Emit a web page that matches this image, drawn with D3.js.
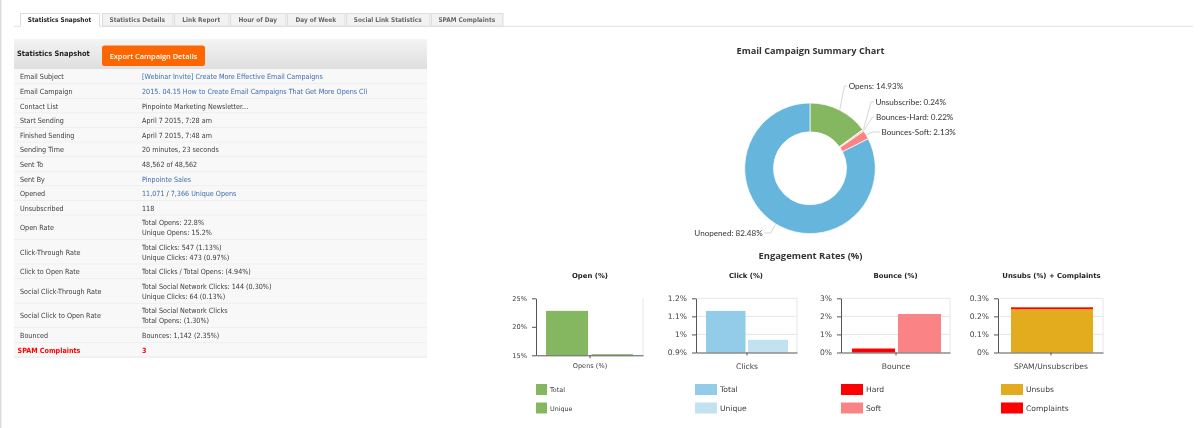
<!DOCTYPE html>
<html><head><meta charset="utf-8">
<script src="https://cdn.jsdelivr.net/npm/d3@7/dist/d3.min.js"></script>
<style>
html,body{margin:0;padding:0;background:#fff;overflow:hidden}
svg{display:block;filter:blur(.35px)}
text{font-family:"DejaVu Sans",sans-serif;font-size:7.6px;fill:#3c3c3c}
.r{font-family:"DejaVu Sans Condensed","DejaVu Sans",sans-serif;font-size:7.15px}
.b{font-weight:bold}
.lnk{fill:#3b6db0}
.t{font-family:"Open Sans",sans-serif;font-weight:700;fill:#333}
</style></head><body>
<svg id="c" width="1200" height="428"></svg>
<script>
const tabs = ["Statistics Snapshot","Statistics Details","Link Report","Hour of Day","Day of Week","Social Link Statistics","SPAM Complaints"];
const rowLabels = ["Email Subject","Email Campaign","Contact List","Start Sending","Finished Sending","Sending Time","Sent To","Sent By","Opened","Unsubscribed","Open Rate","Click-Through Rate","Click to Open Rate","Social Click-Through Rate","Social Click to Open Rate","Bounced","SPAM Complaints"];
const rowValues = [["[Webinar Invite] Create More Effective Email Campaigns"],["2015. 04.15 How to Create Email Campaigns That Get More Opens Cli"],["Pinpointe Marketing Newsletter..."],["April 7 2015, 7:28 am"],["April 7 2015, 7:48 am"],["20 minutes, 23 seconds"],["48,562 of 48,562"],["Pinpointe Sales"],["11,071 / 7,366 Unique Opens"],["118"],["Total Opens: 22.8%","Unique Opens: 15.2%"],["Total Clicks: 547 (1.13%)","Unique Clicks: 473 (0.97%)"],["Total Clicks / Total Opens: (4.94%)"],["Total Social Network Clicks: 144 (0.30%)","Unique Clicks: 64 (0.13%)"],["Total Social Network Clicks","Total Opens: (1.30%)"],["Bounces: 1,142 (2.35%)"],["3"]];
const linkRows = ["Email Subject","Email Campaign","Sent By","Opened"];
const pieNames = ["Opens","Unsubscribe","Bounces-Hard","Bounces-Soft","Unopened"];
const pieValues = [14.93,0.24,0.22,2.13,82.48];
const pieColors = ["#85b761","#f6b26b","#f5554f","#f98385","#66b5dc"];

const svg = d3.select("#c");
svg.append("rect").attr("x",0).attr("y",0).attr("width",1.5).attr("height",428).attr("fill","#dcdcdc");

// tabs
const tabEdges = [20,102,174,230,287,346,431,504];
svg.append("rect").attr("x",14).attr("y",25.8).attr("width",1179).attr("height",1.3).attr("fill","#e6e6e6");
tabs.forEach((t,i)=>{
  const x0=tabEdges[i], x1=tabEdges[i+1]-(i==0?3:1.5);
  svg.append("rect").attr("x",x0+.5).attr("y",13.5).attr("width",x1-x0).attr("height",i==0?14:12.5)
    .attr("fill",i==0?"#fff":"#f2f2f2").attr("stroke",i==0?"#fff":"#ddd");
  if(i==0) svg.append("path").attr("d",`M${x0+.5} 26.5V13.5H${x1+.5}V26.5`).attr("fill","none").attr("stroke","#ddd");
  svg.append("text").attr("class","r b").attr("x",(x0+x1)/2).attr("y",22.3).attr("text-anchor","middle")
    .style("font-size","6.45px").style("fill",i==0?"#222":"#666").text(t);
});

// table header
const defs=svg.append("defs");
const g=defs.append("linearGradient").attr("id","hd").attr("x1",0).attr("x2",0).attr("y1",0).attr("y2",1);
g.append("stop").attr("offset",0).attr("stop-color","#f4f4f4");
g.append("stop").attr("offset",1).attr("stop-color","#dedede");
svg.append("rect").attr("x",14).attr("y",39).attr("width",413).attr("height",30.3).attr("fill","url(#hd)");
svg.append("text").attr("class","r b").attr("x",17).attr("y",56.3).style("font-size","7.4px").style("fill","#222").text("Statistics Snapshot");
svg.append("rect").attr("x",102).attr("y",45.5).attr("width",103).attr("height",20.5).attr("rx",2.5).attr("fill","#ff6600");
svg.append("text").attr("x",153.5).attr("y",59).attr("text-anchor","middle").style("font-family","'Open Sans',sans-serif").style("font-size","7.4px").style("fill","#fff").style("font-weight","600").text("Export Campaign Details");

// table rows
let y=69.3;
rowLabels.forEach((lab,i)=>{
  const v=rowValues[i], h=v.length>1?24.5:14.6, spam=lab==="SPAM Complaints";
  svg.append("rect").attr("x",14).attr("y",y).attr("width",413).attr("height",h).attr("fill","#f8f8f8");
  svg.append("line").attr("x1",14).attr("x2",427).attr("y1",y+h).attr("y2",y+h).attr("stroke","#e6e6e6");
  const lt=svg.append("text").attr("class",spam?"r b":"r").attr("x",spam?17.5:20).attr("y",y+h/2+2.7).text(lab);
  if(spam) lt.style("fill","#f00");
  v.forEach((s,k)=>{
    const yy=v.length>1? y+h/2+2.7+(k-.5)*10 : y+h/2+2.7;
    const vt=svg.append("text").attr("class",spam?"r b":"r").attr("x",142).attr("y",yy);
    if(spam) vt.style("fill","#f00");
    if(lab==="Opened"){
      vt.append("tspan").attr("class","lnk").text("11,071");
      vt.append("tspan").text(" / ");
      vt.append("tspan").attr("class","lnk").text("7,366 Unique Opens");
    } else { if(linkRows.includes(lab)) vt.classed("lnk",true); vt.text(s); }
  });
  y+=h;
});

// donut
svg.append("text").attr("class","t").attr("x",810.5).attr("y",54).attr("text-anchor","middle").style("font-size","9.2px").text("Email Campaign Summary Chart");
svg.append("text").attr("class","t").attr("x",810.5).attr("y",258.5).attr("text-anchor","middle").style("font-size","9.4px").text("Engagement Rates (%)");
const pc=svg.append("g").attr("transform","translate(810,168.3)");
const pie=d3.pie().sort(null).value(d=>d)(pieValues);
const arc=d3.arc().innerRadius(36.5).outerRadius(65.3);
pc.selectAll("path.s").data(pie).join("path").attr("class","s").attr("d",arc)
  .attr("fill",(d,i)=>pieColors[i]).attr("stroke","#fff").attr("stroke-width",.7);
const labelX=[38.7,65.5,66,71.5,-47.3], labelY=[-82.3,-66.3,-51.3,-36.3,64.7], elbow=[34.5,61,62.5,63,-39.3];
pie.forEach((d,i)=>{
  const a=(d.startAngle+d.endAngle)/2, sx=Math.sin(a)*66, sy=-Math.cos(a)*66;
  const right=labelX[i]>0;
  pc.append("path").attr("d",`M${sx} ${sy}L${elbow[i]} ${labelY[i]}L${labelX[i]+(right?-1.5:1.5)} ${labelY[i]}`)
    .attr("fill","none").attr("stroke","#ccc").attr("stroke-width",.8);
  pc.append("text").attr("x",labelX[i]).attr("y",labelY[i]+3).attr("text-anchor",right?"start":"end")
    .style("font-family","Lato,sans-serif").style("font-size","8.1px").style("fill","#333").text(`${pieNames[i]}: ${pieValues[i].toFixed(2)}%`);
});

// small charts
const charts=[
 {title:"Open (%)",tx:590,x0:536,x1:643,y1:355.3,dom:[15,25],ticks:[15,20,25],fmt:d=>d+"%",cat:"Opens (%)",small:true,noGrid:true,
  series:["Total","Unique"],values:[22.8,15.2],colors:["#85b761","#85b761"],bars:[[546,588],[591.5,633]],lx:536,sw:11},
 {title:"Click (%)",tx:746,x0:696,x1:797,y1:352.5,dom:[.9,1.2],ticks:[.9,1,1.1,1.2],fmt:d=>d+"%",cat:"Clicks",
  series:["Total","Unique"],values:[1.13,.97],colors:["#93cce8","#c2e2f2"],bars:[[706,745.5],[748,788]],lx:695,sw:22},
 {title:"Bounce (%)",tx:895.5,x0:841,x1:950,y1:352.5,dom:[0,3],ticks:[0,1,2,3],fmt:d=>d+"%",cat:"Bounce",
  series:["Hard","Soft"],values:[.22,2.13],colors:["#f00","#f98385"],bars:[[852,895],[898,941]],lx:841,sw:22},
];
const unsubsSeries=["Unsubs","Complaints"], unsubsValues=[.24,.01], unsubsColors=["#e3ab1e","#f00"];
charts.push({title:"Unsubs (%) + Complaints",tx:1051.5,x0:998,x1:1103,y1:352.5,dom:[0,.3],ticks:[0,.1,.2,.3],fmt:d=>d+"%",cat:"SPAM/Unsubscribes",
  series:unsubsSeries,values:unsubsValues,colors:unsubsColors,stack:true,bars:[[1011,1093],[1011,1093]],lx:1001,sw:22});

charts.forEach(c=>{
  const gg=svg.append("g");
  const ys=d3.scaleLinear().domain(c.dom).range([c.y1,298.3]);
  gg.append("text").attr("class","b").attr("x",c.tx).attr("y",278).attr("text-anchor","middle").style("font-size","6.9px").style("fill","#222").text(c.title);
  if(!c.noGrid) c.ticks.forEach(t=>{
    if(t!==c.dom[0]) gg.append("line").attr("x1",c.x0).attr("x2",c.x1).attr("y1",ys(t)).attr("y2",ys(t)).attr("stroke","#e6e6e6");
  });
  gg.append("line").attr("x1",c.x1).attr("x2",c.x1).attr("y1",298.3).attr("y2",c.y1).attr("stroke","#e6e6e6");
  let base=c.dom[0];
  c.values.forEach((v,i)=>{
    const [a,b]=c.bars[i];
    const lo=c.stack?base:c.dom[0], hi=c.stack?base+v:v;
    gg.append("rect").attr("x",a).attr("width",b-a).attr("y",ys(hi)).attr("height",ys(lo)-ys(hi)).attr("fill",c.colors[i]);
    base+=v;
  });
  const ax=d3.axisLeft(ys).tickValues(c.ticks).tickFormat(c.fmt).tickSize(4).tickSizeOuter(0).tickPadding(5);
  const ag=gg.append("g").attr("transform",`translate(${c.x0},0)`).call(ax);
  ag.selectAll("path,line").attr("stroke","#555");
  ag.selectAll("text").style("font-size",c.small?"6.6px":"7.6px").style("fill","#444").style("font-family","'DejaVu Sans',sans-serif");
  const xs=d3.scalePoint().domain([c.cat]).range([c.x0,c.x1]).padding(.5);
  const bx=d3.axisBottom(xs).tickSize(3).tickSizeOuter(0).tickPadding(c.small?5:8);
  const bg=gg.append("g").attr("transform",`translate(0,${c.y1})`).call(bx);
  bg.selectAll("path,line").attr("stroke","#555");
  bg.selectAll("text").style("font-size",c.small?"6.6px":"7.6px").style("fill","#444").style("font-family","'DejaVu Sans',sans-serif");
  c.series.forEach((s,i)=>{
    const ly=i?402.5:384;
    gg.append("rect").attr("x",c.lx).attr("y",ly).attr("width",c.sw).attr("height",11).attr("fill",c.colors[i]);
    gg.append("text").attr("x",c.lx+c.sw+3).attr("y",ly+8.2).style("font-size",c.small?"6.4px":"7.6px").text(s);
  });
});
</script></body></html>
